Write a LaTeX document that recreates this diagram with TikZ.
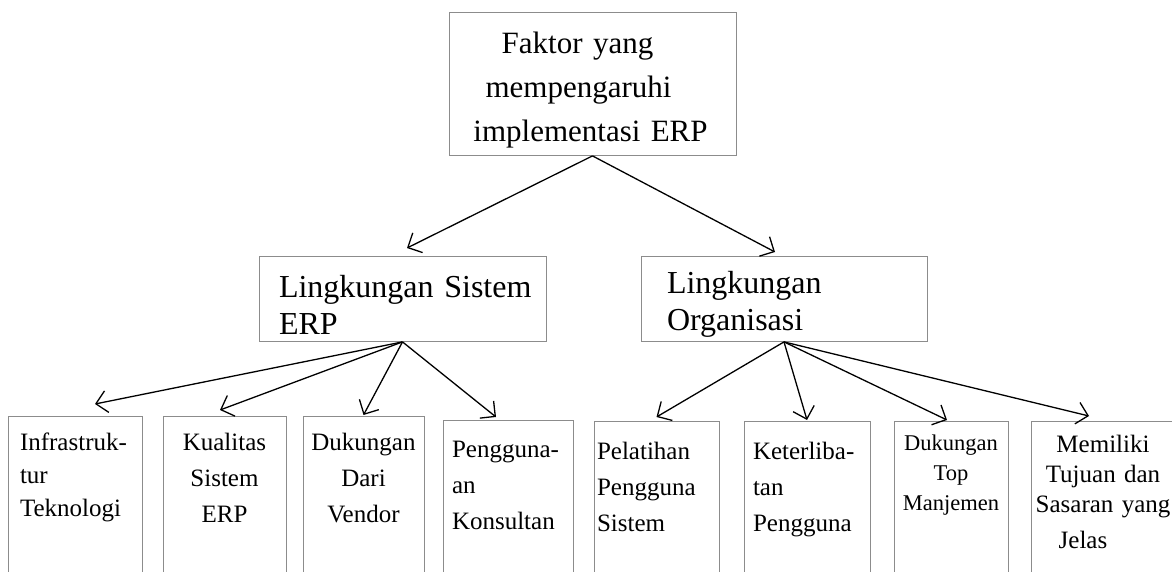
\documentclass[tikz,border=0pt]{standalone}
\usepackage{fontspec}
\setmainfont{Liberation Serif}
\usetikzlibrary{arrows.meta}
\hyphenpenalty=10000
\exhyphenpenalty=10000

\begin{document}
\begin{tikzpicture}[x=1pt,y=1pt,
  every node/.style={draw=black!45,line width=0.9pt,inner ysep=0pt},
  toptext/.style={font=\fontsize{31}{44}\selectfont},
  midtext/.style={font=\fontsize{32}{37}\selectfont},
  factor/.style={anchor=north,font=\fontsize{25}{36}\selectfont,text height=34pt,text depth=200pt},
  arr/.style={-{Straight Barb[length=11pt,width=22pt]},line width=1.3pt}]
\useasboundingbox (0,0) rectangle (1172,-572);
\clip (0,0) rectangle (1172,-572);
% top and second level
\node[toptext,anchor=north,text width=287pt,inner xsep=0pt,align=center,text height=41pt,text depth=102pt] (faktor) at (592.5,-12) {Faktor yang\hspace*{30pt}\null\\ mempengaruhi\hspace*{28pt}\null\\ implementasi ERP\hspace*{4pt}\null};
\node[midtext,anchor=north,text width=247pt,inner xsep=20pt,align=left,text height=41pt,text depth=44pt] (sistem) at (402.5,-256) {\mbox{Lingkungan Sistem}\\ ERP};
\node[midtext,anchor=north,text width=234pt,inner xsep=26pt,align=left,text height=37pt,text depth=48pt] (organisasi) at (784,-256) {Lingkungan\\ Organisasi};
% factors
\node[factor,text width=110pt,inner xsep=12pt,align=left,font=\fontsize{25}{33}\selectfont] (infra) at (75,-416) {Infrastruk-\\ tur\\ Teknologi};
\node[factor,text width=115pt,inner xsep=4pt,align=center] (kualitas) at (224.5,-416) {Kualitas\\ Sistem\\ ERP};
\node[factor,text width=113pt,inner xsep=4pt,align=center] (vendor) at (363.5,-416) {Dukungan\\ Dari\\ Vendor};
\node[factor,text width=112pt,inner xsep=9pt,align=left,text height=37pt] (konsultan) at (508,-420) {Pengguna-\\ an\\ Konsultan};
\node[factor,text width=119pt,inner xsep=3pt,align=left,text height=38pt] (pelatihan) at (656.5,-421) {Pelatihan\\ Pengguna\\ Sistem};
\node[factor,text width=108pt,inner xsep=9pt,align=left,text height=38pt] (keterlibatan) at (807,-421) {Keterliba-\\ tan\\ Pengguna};
\node[factor,text width=108pt,inner xsep=3pt,align=center,font=\fontsize{22.5}{30}\selectfont,text height=29pt] (topmgmt) at (951,-421) {Dukungan\\ Top\\ Manjemen};
\node[factor,text width=138pt,inner xsep=3pt,align=center,font=\fontsize{25}{30}\selectfont,text height=31pt] (tujuan) at (1103,-421) {Memiliki\\ Tujuan dan\\ Sasaran yang\\[6pt] \hspace*{-40pt}Jelas};
% arrows
\draw[arr] (faktor.south) -- ([shift={(4.5,8)}]sistem.north);
\draw[arr] (faktor.south) -- ([shift={(-9,4)}]organisasi.north);
\draw[arr] (sistem.south) -- ([shift={(20,12)}]infra.north);
\draw[arr] (sistem.south) -- ([shift={(-4.5,6)}]kualitas.north);
\draw[arr] (sistem.south) -- ([shift={(0,1)}]vendor.north);
\draw[arr] (sistem.south) -- ([shift={(-12,3)}]konsultan.north);
\draw[arr] (organisasi.south) -- ([shift={(0,4)}]pelatihan.north);
\draw[arr] (organisasi.south) -- ([shift={(0,1)}]keterlibatan.north);
\draw[arr] (organisasi.south) -- ([shift={(-4,1)}]topmgmt.north);
\draw[arr] (organisasi.south) -- ([shift={(-14,5)}]tujuan.north);
\end{tikzpicture}
\end{document}
